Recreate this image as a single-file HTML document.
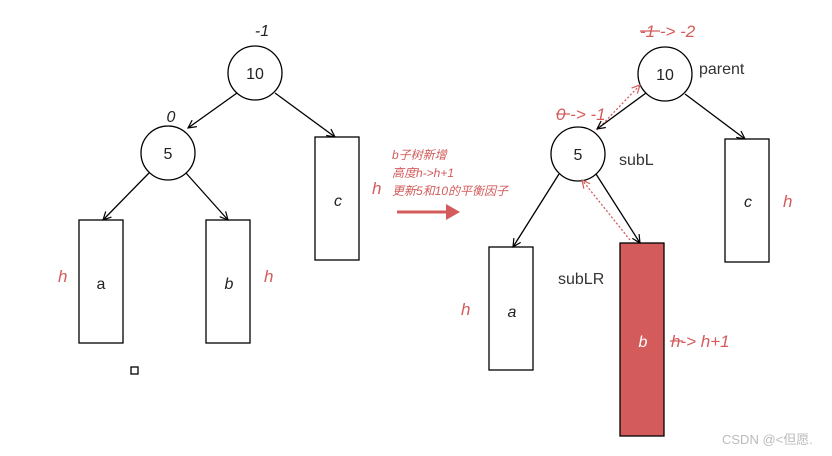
<!DOCTYPE html>
<html><head><meta charset="utf-8"><style>
html,body{margin:0;padding:0;background:#fff;}
svg{display:block;font-family:"Liberation Sans","Noto Sans CJK SC",sans-serif;}
.r{fill:#d45b5b;font-style:italic;}
</style></head><body>
<svg width="832" height="456" viewBox="0 0 832 456" xmlns="http://www.w3.org/2000/svg">
<defs>
<marker id="a" markerWidth="10" markerHeight="10" refX="9" refY="5" orient="auto" markerUnits="userSpaceOnUse"><path d="M1,1 L9,5 L1,9" fill="none" stroke="#000" stroke-width="1.2"/></marker>
<marker id="ar" markerWidth="10" markerHeight="10" refX="9" refY="5" orient="auto" markerUnits="userSpaceOnUse"><path d="M1,1 L9,5 L1,9" fill="none" stroke="#d45b5b" stroke-width="1.2"/></marker>
</defs>
<g stroke="#000" stroke-width="1.3" fill="none">
<circle cx="255" cy="73" r="27" fill="#fff"/>
<circle cx="168" cy="153" r="27" fill="#fff"/>
<rect x="315" y="137" width="44" height="123" fill="#fff"/>
<rect x="79" y="220" width="44" height="123" fill="#fff"/>
<rect x="206" y="220" width="44" height="123" fill="#fff"/>
<rect x="131" y="367" width="7" height="7" fill="#fff"/>
<line x1="237" y1="93" x2="188" y2="128" marker-end="url(#a)"/>
<line x1="275" y1="93" x2="335" y2="137" marker-end="url(#a)"/>
<line x1="149" y1="173" x2="103" y2="220" marker-end="url(#a)"/>
<line x1="186" y1="173" x2="228" y2="220" marker-end="url(#a)"/>
<circle cx="665" cy="74" r="27" fill="#fff"/>
<circle cx="578" cy="154" r="27" fill="#fff"/>
<rect x="725" y="139" width="44" height="123" fill="#fff"/>
<rect x="489" y="247" width="44" height="123" fill="#fff"/>
<rect x="620" y="243" width="44" height="193" fill="#d45b5b"/>
<line x1="646" y1="93" x2="597" y2="129" marker-end="url(#a)" stroke="none"/>
<line x1="685" y1="94" x2="745" y2="139" marker-end="url(#a)"/>
<line x1="559" y1="174" x2="513" y2="247" marker-end="url(#a)"/>
<line x1="596" y1="174" x2="640" y2="243" marker-end="url(#a)"/>
<line x1="597" y1="130" x2="640" y2="85" stroke="#d45b5b" stroke-dasharray="2,2" marker-end="url(#ar)"/>
<line x1="630" y1="240" x2="582" y2="180" stroke="#d45b5b" stroke-dasharray="2,2" marker-end="url(#ar)"/>
</g>
<line x1="578" y1="130" x2="598" y2="120" stroke="#000" stroke-width="0"/>
<line x1="646" y1="93" x2="597" y2="129" stroke="#000" stroke-width="1.3"/>
<line x1="397" y1="212" x2="450" y2="212" stroke="#d45b5b" stroke-width="3"/>
<path d="M446,204 L460,212 L446,220 Z" fill="#d45b5b"/>
<g font-size="16" fill="#222" text-anchor="middle">
<text x="255" y="79">10</text><text x="168" y="159">5</text>
<text x="665" y="80">10</text><text x="578" y="160">5</text>
<text x="101" y="289">a</text>
<text x="229" y="289" font-style="italic">b</text>
<text x="338" y="206" font-style="italic">c</text>
<text x="512" y="317" font-style="italic">a</text>
<text x="748" y="207" font-style="italic">c</text>
<text x="643" y="347" font-style="italic" fill="#fff">b</text>
<text x="262" y="36" font-style="italic">-1</text>
<text x="171" y="122" font-style="italic">0</text>
</g>
<g font-size="16" fill="#333">
<text x="699" y="74">parent</text>
<text x="619" y="165">subL</text>
<text x="558" y="284">subLR</text>
</g>
<g font-size="17" class="r">
<text x="58" y="282">h</text><text x="264" y="282">h</text><text x="372" y="194">h</text>
<text x="461" y="315">h</text><text x="783" y="207">h</text>
<text x="671" y="347">h-&gt; h+1</text>
<text x="640" y="37">-1 -&gt; -2</text>
<text x="556" y="120">0 -&gt; -1</text>
</g>
<line x1="640" y1="31" x2="660" y2="31" stroke="#d45b5b" stroke-width="1.2"/>
<line x1="556" y1="114" x2="570" y2="114" stroke="#d45b5b" stroke-width="1.2"/>
<line x1="670" y1="341" x2="683" y2="341" stroke="#d45b5b" stroke-width="1.2"/>
<g font-size="12" class="r">
<text x="392" y="159">b子树新增</text>
<text x="392" y="177">高度h-&gt;h+1</text>
<text x="392" y="195">更新5和10的平衡因子</text>
</g>
<text x="722" y="444" font-size="13" fill="#bbb">CSDN @&lt;但愿.</text>
</svg>
</body></html>
